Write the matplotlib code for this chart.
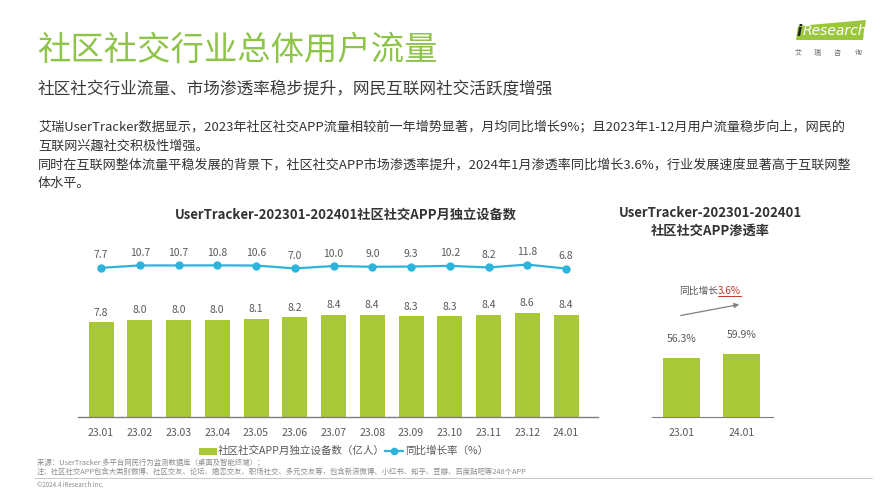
import matplotlib
matplotlib.use("Agg")
import matplotlib.pyplot as plt
from matplotlib.patches import Polygon, Rectangle, FancyArrowPatch
from matplotlib.lines import Line2D

plt.rcParams['font.family'] = ['Noto Sans CJK SC', 'DejaVu Sans']

months = ["23.01", "23.02", "23.03", "23.04", "23.05", "23.06", "23.07",
          "23.08", "23.09", "23.10", "23.11", "23.12", "24.01"]
devices = [7.8, 8.0, 8.0, 8.0, 8.1, 8.2, 8.4, 8.4, 8.3, 8.3, 8.4, 8.6, 8.4]
growth = [7.7, 10.7, 10.7, 10.8, 10.6, 7.0, 10.0, 9.0, 9.3, 10.2, 8.2, 11.8, 6.8]

pen_labels = ["23.01", "24.01"]
penetration = [56.3, 59.9]
pen_growth = 3.6

GREEN = "#A8C838"
BLUE = "#2DB4DA"
TITLE_GREEN = "#8DC449"
DARK = "#333333"
GRAY = "#595959"

W, H = 889, 500
fig = plt.figure(figsize=(W / 100, H / 100), dpi=100)


def fx(x):
    return x / W


def fy(y):
    return 1 - y / H


def axes_px(x0, x1, ytop, ybot):
    return fig.add_axes([fx(x0), fy(ybot), fx(x1) - fx(x0), (ybot - ytop) / H])


# ---- Header texts ----
fig.text(fx(37), fy(50), "社区社交行业总体用户流量", fontsize=24, color=TITLE_GREEN,
         va="center", ha="left", fontweight="light")
fig.text(fx(38), fy(90), "社区社交行业流量、市场渗透率稳步提升，网民互联网社交活跃度增强",
         fontsize=12, color="#3A3A3A", va="center", ha="left")
body = [
    "艾瑞UserTracker数据显示，2023年社区社交APP流量相较前一年增势显著，月均同比增长9%；且2023年1-12月用户流量稳步向上，网民的",
    "互联网兴趣社交积极性增强。",
    "同时在互联网整体流量平稳发展的背景下，社区社交APP市场渗透率提升，2024年1月渗透率同比增长3.6%，行业发展速度显著高于互联网整",
    "体水平。",
]
for i, line in enumerate(body):
    fig.text(fx(38), fy(128 + i * 18.5), line, fontsize=9.45, color=DARK, va="center", ha="left")

# ---- Logo ----
logo = Polygon([[fx(796), fy(40)], [fx(798), fy(26)], [fx(866), fy(20)], [fx(863), fy(40)]],
               closed=True, transform=fig.transFigure, facecolor="#9BC73C", edgecolor="none")
fig.patches.append(logo)
fig.text(fx(797), fy(31), "i", fontsize=11, color="#222222", fontweight="bold",
         va="center", ha="left", family="DejaVu Sans", style="italic")
fig.text(fx(803), fy(31), "Research", fontsize=10, color="white",
         va="center", ha="left", family="DejaVu Sans", style="italic")
for cx, ch in zip([798, 817, 837, 858], "艾瑞咨询"):
    fig.text(fx(cx), fy(53), ch, fontsize=5, color="#666666", va="center", ha="center")

# ---- Left chart ----
fig.text(fx(346), fy(215), "UserTracker-202301-202401社区社交APP月独立设备数", fontsize=9.5,
         fontweight="bold", color=DARK, va="center", ha="center")

px_per_unit_x = (566 - 101) / 12
AX_L, AX_R = 78, 598
xl0 = (AX_L - 101) / px_per_unit_x
xl1 = (AX_R - 101) / px_per_unit_x
ax = axes_px(AX_L, AX_R, 240, 417)
x = list(range(len(months)))
ax.bar(x, devices, width=25 / px_per_unit_x, color=GREEN, zorder=2)
ax.set_xlim(xl0, xl1)
ax.set_ylim(0, 177 / 12.15)
for xi, v in zip(x, devices):
    ax.annotate(f"{v:.1f}", (xi, v), xytext=(0, 3.2), textcoords="offset points",
                ha="center", va="bottom", fontsize=7.5, color=GRAY)
ax.set_xticks(x)
ax.set_xticklabels(months, fontsize=7.5, color=GRAY)
ax.tick_params(axis="x", length=0, pad=8)
ax.set_yticks([])
for s in ["top", "right", "left"]:
    ax.spines[s].set_visible(False)
ax.spines["bottom"].set_color("#7F7F7F")
ax.spines["bottom"].set_linewidth(1.0)
ax.patch.set_alpha(0)

ax2 = axes_px(AX_L, AX_R, 240, 417)
ax2.plot(x, growth, color=BLUE, linewidth=1.6, marker="o", markersize=5,
         markerfacecolor=BLUE, markeredgecolor=BLUE, zorder=3)
ax2.set_xlim(xl0, xl1)
ax2.set_ylim((274 - 417) / 0.8, (274 - 240) / 0.8)
for xi, v in zip(x, growth):
    ax2.annotate(f"{v:.1f}", (xi, v), xytext=(0, 5.3), textcoords="offset points",
                 ha="center", va="bottom", fontsize=7.5, color=GRAY)
ax2.axis("off")

# legend
fig.patches.append(Rectangle((fx(199), fy(455)), fx(217) - fx(199), 7 / H,
                             transform=fig.transFigure, facecolor=GREEN, edgecolor="none"))
fig.text(fx(218), fy(451), "社区社交APP月独立设备数（亿人）", fontsize=7.6, color=GRAY,
         va="center", ha="left")
fig.lines.append(Line2D([fx(385), fx(403)], [fy(451), fy(451)], transform=fig.transFigure,
                        color=BLUE, linewidth=1.6))
fig.lines.append(Line2D([fx(394)], [fy(451)], transform=fig.transFigure,
                        color=BLUE, marker="o", markersize=4.5, linestyle="none"))
fig.text(fx(405), fy(451), "同比增长率（%）", fontsize=7.6, color=GRAY, va="center", ha="left")

# ---- Right chart ----
fig.text(fx(710), fy(213), "UserTracker-202301-202401", fontsize=9.5, fontweight="bold",
         color=DARK, va="center", ha="center")
fig.text(fx(710), fy(231), "社区社交APP渗透率", fontsize=9.5, fontweight="bold",
         color=DARK, va="center", ha="center")

sp = 741.5 - 681.5
ax3 = axes_px(652, 773, 330, 417)
xr = list(range(len(pen_labels)))
ax3.bar(xr, penetration, width=37 / sp, color=GREEN)
ax3.set_xlim((652 - 681.5) / sp, (773 - 681.5) / sp)
ax3.set_ylim(0, 87 / 1.05)
for xi, v in zip(xr, penetration):
    ax3.annotate(f"{v:.1f}%", (xi, v), xytext=(0, 10), textcoords="offset points",
                 ha="center", va="bottom", fontsize=7.5, color=GRAY)
ax3.set_xticks(xr)
ax3.set_xticklabels(pen_labels, fontsize=7.5, color=GRAY)
ax3.tick_params(axis="x", length=0, pad=8)
ax3.set_yticks([])
for s in ["top", "right", "left"]:
    ax3.spines[s].set_visible(False)
ax3.spines["bottom"].set_color("#7F7F7F")
ax3.patch.set_alpha(0)

arrow = FancyArrowPatch((fx(678), fy(316)), (fx(742), fy(304)), transform=fig.transFigure,
                        arrowstyle="-|>", color="#7F7F7F", lw=0.9, mutation_scale=7)
fig.patches.append(arrow)

fig.text(fx(679), fy(291), "同比增长", fontsize=7.0, color=GRAY, va="center", ha="left")
fig.text(fx(718), fy(291), f"{pen_growth}%", fontsize=7.2, color="#C0392B", va="center", ha="left")
fig.lines.append(Line2D([fx(718), fx(741)], [fy(296), fy(296)], transform=fig.transFigure,
                        color="#C0392B", linewidth=0.7))

# ---- Footnotes ----
fig.text(fx(37), fy(463), "来源：UserTracker 多平台网民行为监测数据库（桌面及智能终端）；",
         fontsize=5.3, color="#8C8C8C", va="center", ha="left")
fig.text(fx(37), fy(472), "注：社区社交APP包含大类别微博、社区交友、论坛、婚恋交友、职场社交、多元交友等，包含新浪微博、小红书、知乎、豆瓣、百度贴吧等248个APP",
         fontsize=5.3, color="#8C8C8C", va="center", ha="left")
fig.lines.append(Line2D([fx(35), fx(872)], [fy(478), fy(478)], transform=fig.transFigure,
                        color="#BFBFBF", linewidth=0.6))
fig.text(fx(37), fy(485), "©2024.4 iResearch Inc.", fontsize=4.5, color="#8C8C8C",
         va="center", ha="left")

fig.savefig("out.png", dpi=100, facecolor="white")
